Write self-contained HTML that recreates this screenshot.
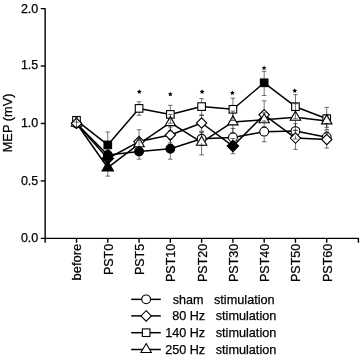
<!DOCTYPE html><html><head><meta charset="utf-8"><style>html,body{margin:0;padding:0;background:#fff;}svg{display:block;filter:grayscale(1);}text{font-family:"Liberation Sans",sans-serif;stroke:#000;stroke-width:0.25px;}</style></head><body>
<svg width="360" height="357" viewBox="0 0 360 357">
<path d="M40.75,8.61H45.15V242.8M40.75,238.35H358.4V242.8" stroke="#000" stroke-width="1.4" fill="none" stroke-linejoin="round"/>
<path d="M40.75,66.04H45.15" stroke="#000" stroke-width="1.4"/>
<path d="M40.75,123.48H45.15" stroke="#000" stroke-width="1.4"/>
<path d="M40.75,180.91H45.15" stroke="#000" stroke-width="1.4"/>
<path d="M76.50,238.35V242.8" stroke="#000" stroke-width="1.4"/>
<path d="M107.78,238.35V242.8" stroke="#000" stroke-width="1.4"/>
<path d="M139.06,238.35V242.8" stroke="#000" stroke-width="1.4"/>
<path d="M170.34,238.35V242.8" stroke="#000" stroke-width="1.4"/>
<path d="M201.62,238.35V242.8" stroke="#000" stroke-width="1.4"/>
<path d="M232.90,238.35V242.8" stroke="#000" stroke-width="1.4"/>
<path d="M264.18,238.35V242.8" stroke="#000" stroke-width="1.4"/>
<path d="M295.46,238.35V242.8" stroke="#000" stroke-width="1.4"/>
<path d="M326.74,238.35V242.8" stroke="#000" stroke-width="1.4"/>
<text x="38.3" y="12.51" font-size="12.5" text-anchor="end">2.0</text>
<text x="38.3" y="69.19" font-size="12.5" text-anchor="end">1.5</text>
<text x="38.3" y="126.58" font-size="12.5" text-anchor="end">1.0</text>
<text x="38.3" y="184.66" font-size="12.5" text-anchor="end">0.5</text>
<text x="38.3" y="241.65" font-size="12.5" text-anchor="end">0.0</text>
<text transform="translate(12.0,122.9) rotate(-90)" font-size="12.8" text-anchor="middle">MEP (mV)</text>
<text transform="translate(80.90,243.8) rotate(-90)" font-size="12.5" text-anchor="end" textLength="36.6" lengthAdjust="spacingAndGlyphs">before</text>
<text transform="translate(112.78,243.8) rotate(-90)" font-size="12.5" text-anchor="end">PST0</text>
<text transform="translate(144.06,243.8) rotate(-90)" font-size="12.5" text-anchor="end">PST5</text>
<text transform="translate(175.34,243.8) rotate(-90)" font-size="12.5" text-anchor="end">PST10</text>
<text transform="translate(206.62,243.8) rotate(-90)" font-size="12.5" text-anchor="end">PST20</text>
<text transform="translate(237.90,243.8) rotate(-90)" font-size="12.5" text-anchor="end">PST30</text>
<text transform="translate(269.18,243.8) rotate(-90)" font-size="12.5" text-anchor="end">PST40</text>
<text transform="translate(300.46,243.8) rotate(-90)" font-size="12.5" text-anchor="end">PST50</text>
<text transform="translate(331.74,243.8) rotate(-90)" font-size="12.5" text-anchor="end">PST60</text>
<polyline points="76.50,123.60 107.78,155.00 139.06,151.60 170.34,148.80 201.62,138.80 232.90,137.40 264.18,131.65 295.46,131.10 326.74,137.20" fill="none" stroke="#000" stroke-width="1.5" stroke-linejoin="round"/>
<polyline points="76.50,123.30 107.78,158.50 139.06,141.60 170.34,135.00 201.62,123.00 232.90,146.10 264.18,114.80 295.46,138.10 326.74,139.50" fill="none" stroke="#000" stroke-width="1.5" stroke-linejoin="round"/>
<polyline points="76.50,120.30 107.78,144.90 139.06,108.40 170.34,114.40 201.62,106.60 232.90,109.30 264.18,82.80 295.46,106.70 326.74,118.70" fill="none" stroke="#000" stroke-width="1.5" stroke-linejoin="round"/>
<polyline points="76.50,123.30 107.78,167.70 139.06,143.80 170.34,122.60 201.62,142.30 232.90,121.90 264.18,119.80 295.46,117.20 326.74,120.90" fill="none" stroke="#000" stroke-width="1.5" stroke-linejoin="round"/>
<circle cx="76.50" cy="123.60" r="4.40" fill="#fff" stroke="#000" stroke-width="1.1"/>
<path d="M76.50,117.30L81.70,126.30L71.30,126.30Z" fill="#fff" stroke="#000" stroke-width="1.1"/>
<rect x="72.70" y="116.50" width="7.60" height="7.60" fill="#fff" stroke="#000" stroke-width="1.1"/>
<path d="M76.50,118.10L81.70,123.30L76.50,128.50L71.30,123.30Z" fill="#fff" stroke="#000" stroke-width="1.1"/>
<circle cx="107.78" cy="155.00" r="4.40" fill="#000" stroke="#000" stroke-width="1.1"/>
<path d="M107.78,152.78L113.50,158.50L107.78,164.22L102.06,158.50Z" fill="#000" stroke="#000" stroke-width="1.1"/>
<rect x="103.98" y="141.10" width="7.60" height="7.60" fill="#000" stroke="#000" stroke-width="1.1"/>
<path d="M107.78,161.10L113.50,171.00L102.06,171.00Z" fill="#000" stroke="#000" stroke-width="1.1"/>
<circle cx="139.06" cy="151.60" r="4.40" fill="#000" stroke="#000" stroke-width="1.1"/>
<path d="M139.06,136.40L144.26,141.60L139.06,146.80L133.86,141.60Z" fill="#fff" stroke="#000" stroke-width="1.1"/>
<rect x="135.26" y="104.60" width="7.60" height="7.60" fill="#fff" stroke="#000" stroke-width="1.1"/>
<path d="M139.06,137.80L144.26,146.80L133.86,146.80Z" fill="#fff" stroke="#000" stroke-width="1.1"/>
<circle cx="170.34" cy="148.80" r="4.40" fill="#000" stroke="#000" stroke-width="1.1"/>
<path d="M170.34,129.80L175.54,135.00L170.34,140.20L165.14,135.00Z" fill="#fff" stroke="#000" stroke-width="1.1"/>
<rect x="166.54" y="110.60" width="7.60" height="7.60" fill="#fff" stroke="#000" stroke-width="1.1"/>
<path d="M170.34,116.60L175.54,125.60L165.14,125.60Z" fill="#fff" stroke="#000" stroke-width="1.1"/>
<circle cx="201.62" cy="138.80" r="4.40" fill="#fff" stroke="#000" stroke-width="1.1"/>
<path d="M201.62,117.80L206.82,123.00L201.62,128.20L196.42,123.00Z" fill="#fff" stroke="#000" stroke-width="1.1"/>
<rect x="197.82" y="102.80" width="7.60" height="7.60" fill="#fff" stroke="#000" stroke-width="1.1"/>
<path d="M201.62,136.30L206.82,145.30L196.42,145.30Z" fill="#fff" stroke="#000" stroke-width="1.1"/>
<circle cx="232.90" cy="137.40" r="4.40" fill="#fff" stroke="#000" stroke-width="1.1"/>
<path d="M232.90,140.38L238.62,146.10L232.90,151.82L227.18,146.10Z" fill="#000" stroke="#000" stroke-width="1.1"/>
<rect x="229.10" y="105.50" width="7.60" height="7.60" fill="#fff" stroke="#000" stroke-width="1.1"/>
<path d="M232.90,115.90L238.10,124.90L227.70,124.90Z" fill="#fff" stroke="#000" stroke-width="1.1"/>
<circle cx="264.18" cy="131.65" r="4.40" fill="#fff" stroke="#000" stroke-width="1.1"/>
<path d="M264.18,109.60L269.38,114.80L264.18,120.00L258.98,114.80Z" fill="#fff" stroke="#000" stroke-width="1.1"/>
<rect x="260.38" y="79.00" width="7.60" height="7.60" fill="#000" stroke="#000" stroke-width="1.1"/>
<path d="M264.18,113.80L269.38,122.80L258.98,122.80Z" fill="#fff" stroke="#000" stroke-width="1.1"/>
<circle cx="295.46" cy="131.10" r="4.40" fill="#fff" stroke="#000" stroke-width="1.1"/>
<path d="M295.46,132.90L300.66,138.10L295.46,143.30L290.26,138.10Z" fill="#fff" stroke="#000" stroke-width="1.1"/>
<rect x="291.66" y="102.90" width="7.60" height="7.60" fill="#fff" stroke="#000" stroke-width="1.1"/>
<path d="M295.46,111.20L300.66,120.20L290.26,120.20Z" fill="#fff" stroke="#000" stroke-width="1.1"/>
<circle cx="326.74" cy="137.20" r="4.40" fill="#fff" stroke="#000" stroke-width="1.1"/>
<path d="M326.74,134.30L331.94,139.50L326.74,144.70L321.54,139.50Z" fill="#fff" stroke="#000" stroke-width="1.1"/>
<rect x="322.94" y="114.90" width="7.60" height="7.60" fill="#fff" stroke="#000" stroke-width="1.1"/>
<path d="M326.74,114.90L331.94,123.90L321.54,123.90Z" fill="#fff" stroke="#000" stroke-width="1.1"/>
<path d="M107.78,146.00V150.60M105.48,146.00H110.08M107.78,159.40V161.00M105.48,161.00H110.08" stroke="#000" stroke-opacity="0.55" stroke-width="1" fill="none"/>
<path d="M139.06,140.20V147.20M136.76,140.20H141.36M139.06,156.00V159.20M136.76,159.20H141.36" stroke="#000" stroke-opacity="0.55" stroke-width="1" fill="none"/>
<path d="M170.34,139.00V144.40M168.04,139.00H172.64M170.34,153.20V159.20M168.04,159.20H172.64" stroke="#000" stroke-opacity="0.55" stroke-width="1" fill="none"/>
<path d="M201.62,132.20V134.40M199.32,132.20H203.92M201.62,143.20V145.40M199.32,145.40H203.92" stroke="#000" stroke-opacity="0.55" stroke-width="1" fill="none"/>
<path d="M232.90,128.40V133.00M230.60,128.40H235.20M232.90,141.80V145.60M230.60,145.60H235.20" stroke="#000" stroke-opacity="0.55" stroke-width="1" fill="none"/>
<path d="M264.18,136.05V141.80M261.88,141.80H266.48" stroke="#000" stroke-opacity="0.55" stroke-width="1" fill="none"/>
<path d="M295.46,123.70V126.70M293.16,123.70H297.76M295.46,135.50V139.00M293.16,139.00H297.76" stroke="#000" stroke-opacity="0.55" stroke-width="1" fill="none"/>
<path d="M326.74,132.40V132.80M324.44,132.40H329.04" stroke="#000" stroke-opacity="0.55" stroke-width="1" fill="none"/>
<path d="M107.78,150.00V152.78M105.48,150.00H110.08M107.78,164.22V165.00M105.48,165.00H110.08" stroke="#000" stroke-opacity="0.55" stroke-width="1" fill="none"/>
<path d="M139.06,146.80V150.00M136.76,150.00H141.36" stroke="#000" stroke-opacity="0.55" stroke-width="1" fill="none"/>
<path d="M170.34,127.00V129.80M168.04,127.00H172.64M170.34,140.20V143.00M168.04,143.00H172.64" stroke="#000" stroke-opacity="0.55" stroke-width="1" fill="none"/>
<path d="M201.62,115.00V117.80M199.32,115.00H203.92M201.62,128.20V131.10M199.32,131.10H203.92" stroke="#000" stroke-opacity="0.55" stroke-width="1" fill="none"/>
<path d="M232.90,138.50V140.38M230.60,138.50H235.20M232.90,151.82V153.70M230.60,153.70H235.20" stroke="#000" stroke-opacity="0.55" stroke-width="1" fill="none"/>
<path d="M264.18,100.80V109.60M261.88,100.80H266.48M264.18,120.00V121.20M261.88,121.20H266.48" stroke="#000" stroke-opacity="0.55" stroke-width="1" fill="none"/>
<path d="M295.46,130.20V132.90M293.16,130.20H297.76M295.46,143.30V149.40M293.16,149.40H297.76" stroke="#000" stroke-opacity="0.55" stroke-width="1" fill="none"/>
<path d="M326.74,131.00V134.30M324.44,131.00H329.04M326.74,144.70V148.10M324.44,148.10H329.04" stroke="#000" stroke-opacity="0.55" stroke-width="1" fill="none"/>
<path d="M107.78,132.00V141.10M105.48,132.00H110.08M107.78,148.70V157.80M105.48,157.80H110.08" stroke="#000" stroke-opacity="0.55" stroke-width="1" fill="none"/>
<path d="M139.06,101.80V104.60M136.76,101.80H141.36M139.06,112.20V115.30M136.76,115.30H141.36" stroke="#000" stroke-opacity="0.55" stroke-width="1" fill="none"/>
<path d="M170.34,105.30V110.60M168.04,105.30H172.64M170.34,118.20V123.30M168.04,123.30H172.64" stroke="#000" stroke-opacity="0.55" stroke-width="1" fill="none"/>
<path d="M201.62,98.70V102.80M199.32,98.70H203.92M201.62,110.40V115.40M199.32,115.40H203.92" stroke="#000" stroke-opacity="0.55" stroke-width="1" fill="none"/>
<path d="M232.90,98.10V105.50M230.60,98.10H235.20M232.90,113.10V120.50M230.60,120.50H235.20" stroke="#000" stroke-opacity="0.55" stroke-width="1" fill="none"/>
<path d="M264.18,71.30V79.00M261.88,71.30H266.48M264.18,86.60V95.50M261.88,95.50H266.48" stroke="#000" stroke-opacity="0.55" stroke-width="1" fill="none"/>
<path d="M295.46,94.70V102.90M293.16,94.70H297.76M295.46,110.50V118.70M293.16,118.70H297.76" stroke="#000" stroke-opacity="0.55" stroke-width="1" fill="none"/>
<path d="M326.74,107.40V114.90M324.44,107.40H329.04M326.74,122.50V129.60M324.44,129.60H329.04" stroke="#000" stroke-opacity="0.55" stroke-width="1" fill="none"/>
<path d="M76.50,126.30V127.00M74.20,127.00H78.80" stroke="#000" stroke-opacity="0.55" stroke-width="1" fill="none"/>
<path d="M107.78,160.00V161.10M105.48,160.00H110.08M107.78,171.00V176.10M105.48,176.10H110.08" stroke="#000" stroke-opacity="0.55" stroke-width="1" fill="none"/>
<path d="M139.06,129.70V137.80M136.76,129.70H141.36M139.06,146.80V155.00M136.76,155.00H141.36" stroke="#000" stroke-opacity="0.55" stroke-width="1" fill="none"/>
<path d="M170.34,114.40V116.60M168.04,114.40H172.64M170.34,125.60V131.00M168.04,131.00H172.64" stroke="#000" stroke-opacity="0.55" stroke-width="1" fill="none"/>
<path d="M201.62,132.20V136.30M199.32,132.20H203.92M201.62,145.30V154.90M199.32,154.90H203.92" stroke="#000" stroke-opacity="0.55" stroke-width="1" fill="none"/>
<path d="M232.90,111.10V115.90M230.60,111.10H235.20M232.90,124.90V132.70M230.60,132.70H235.20" stroke="#000" stroke-opacity="0.55" stroke-width="1" fill="none"/>
<path d="M264.18,112.80V113.80M261.88,112.80H266.48M264.18,122.80V126.60M261.88,126.60H266.48" stroke="#000" stroke-opacity="0.55" stroke-width="1" fill="none"/>
<path d="M295.46,103.70V111.20M293.16,103.70H297.76M295.46,120.20V130.70M293.16,130.70H297.76" stroke="#000" stroke-opacity="0.55" stroke-width="1" fill="none"/>
<path d="M326.74,114.60V114.90M324.44,114.60H329.04M326.74,123.90V127.30M324.44,127.30H329.04" stroke="#000" stroke-opacity="0.55" stroke-width="1" fill="none"/>
<path d="M76.5,118.6V128.6M73.6,122.1H79.4" stroke="#000" stroke-opacity="0.55" stroke-width="1" fill="none"/>
<path d="M74.9,117.9H78.1" stroke="#000" stroke-width="1" fill="none"/>
<polygon points="139.30,89.30 140.03,90.79 141.68,91.03 140.49,92.19 140.77,93.82 139.30,93.05 137.83,93.82 138.11,92.19 136.92,91.03 138.57,90.79" fill="#000"/>
<polygon points="170.30,91.70 171.03,93.19 172.68,93.43 171.49,94.59 171.77,96.22 170.30,95.45 168.83,96.22 169.11,94.59 167.92,93.43 169.57,93.19" fill="#000"/>
<polygon points="202.10,89.30 202.83,90.79 204.48,91.03 203.29,92.19 203.57,93.82 202.10,93.05 200.63,93.82 200.91,92.19 199.72,91.03 201.37,90.79" fill="#000"/>
<polygon points="232.40,90.40 233.13,91.89 234.78,92.13 233.59,93.29 233.87,94.92 232.40,94.15 230.93,94.92 231.21,93.29 230.02,92.13 231.67,91.89" fill="#000"/>
<polygon points="264.10,65.40 264.83,66.89 266.48,67.13 265.29,68.29 265.57,69.92 264.10,69.15 262.63,69.92 262.91,68.29 261.72,67.13 263.37,66.89" fill="#000"/>
<polygon points="294.75,88.30 295.48,89.79 297.13,90.03 295.94,91.19 296.22,92.82 294.75,92.05 293.28,92.82 293.56,91.19 292.37,90.03 294.02,89.79" fill="#000"/>
<path d="M131.2,299.35H160.8" stroke="#000" stroke-width="1.5"/>
<circle cx="146.15" cy="299.35" r="4.40" fill="#fff" stroke="#000" stroke-width="1.1"/>
<text x="203.6" y="303.85" font-size="12.6" text-anchor="end">sham</text>
<text x="214.0" y="303.85" font-size="12.7">stimulation</text>
<path d="M131.2,315.9H160.8" stroke="#000" stroke-width="1.5"/>
<path d="M146.15,310.70L151.35,315.90L146.15,321.10L140.95,315.90Z" fill="#fff" stroke="#000" stroke-width="1.1"/>
<text x="205.1" y="320.40" font-size="12.6" text-anchor="end">80 Hz</text>
<text x="215.7" y="320.40" font-size="12.7">stimulation</text>
<path d="M131.2,332.7H160.8" stroke="#000" stroke-width="1.5"/>
<rect x="142.35" y="328.90" width="7.60" height="7.60" fill="#fff" stroke="#000" stroke-width="1.1"/>
<text x="205.1" y="337.20" font-size="12.6" text-anchor="end">140 Hz</text>
<text x="215.7" y="337.20" font-size="12.7">stimulation</text>
<path d="M131.2,349.5H160.8" stroke="#000" stroke-width="1.5"/>
<path d="M146.15,343.50L151.35,352.50L140.95,352.50Z" fill="#fff" stroke="#000" stroke-width="1.1"/>
<text x="205.1" y="354.00" font-size="12.6" text-anchor="end">250 Hz</text>
<text x="215.7" y="354.00" font-size="12.7">stimulation</text>
</svg></body></html>
